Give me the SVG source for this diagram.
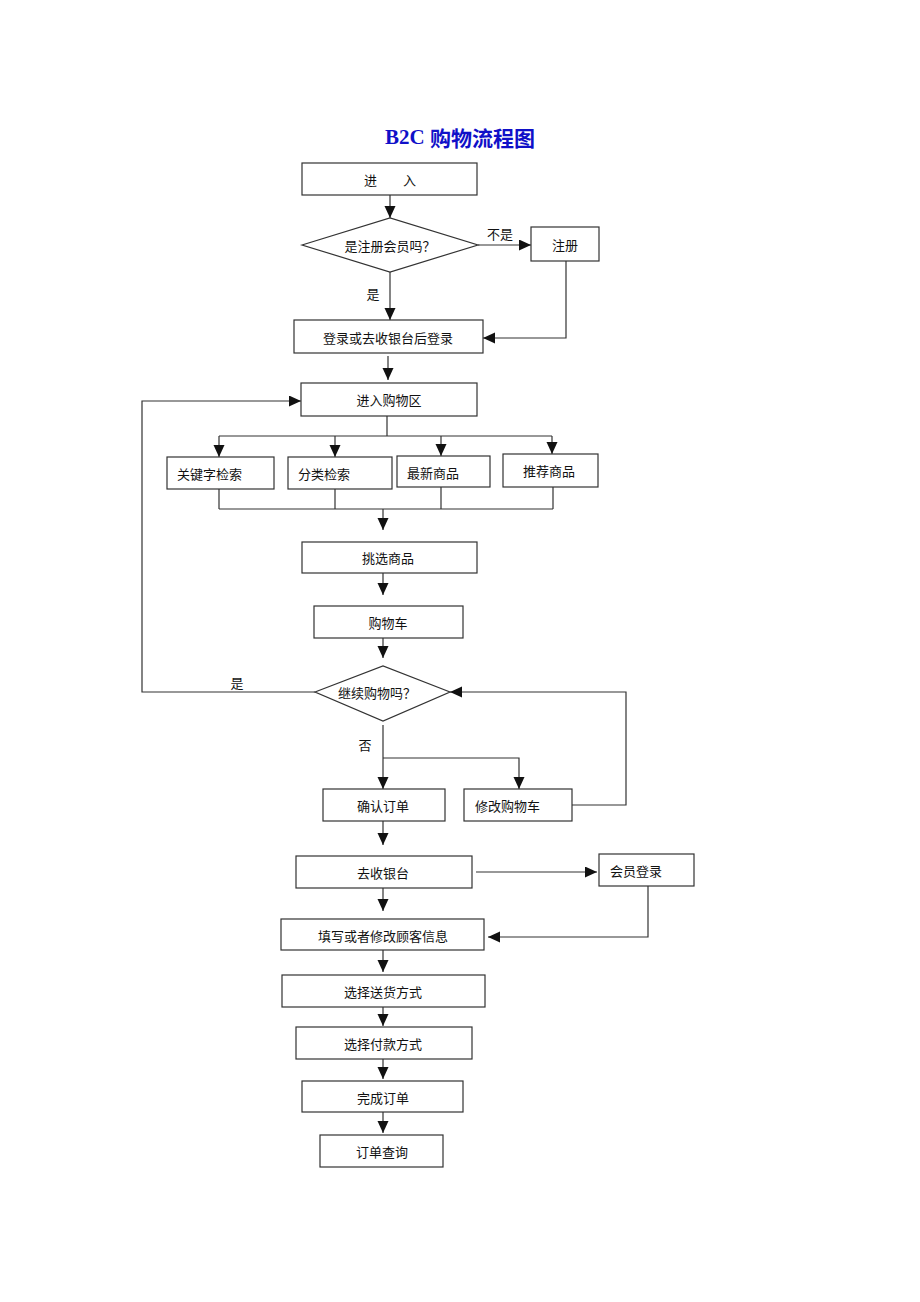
<svg xmlns="http://www.w3.org/2000/svg" width="920" height="1302" viewBox="0 0 920 1302">
<style>
.box{fill:#fff;stroke:#333;stroke-width:1.2}
.ln{fill:none;stroke:#333;stroke-width:1.2}
.ar{fill:none;stroke:#333;stroke-width:1.2;marker-end:url(#ah)}
text{font-family:"Noto Sans CJK SC","Liberation Sans",sans-serif;font-size:13px;fill:#111}
.c{text-anchor:middle;dominant-baseline:central}
.l{dominant-baseline:central}
</style>
<defs>
<marker id="ah" markerUnits="userSpaceOnUse" markerWidth="12" markerHeight="12" refX="12" refY="5.5" orient="auto">
<path d="M0,0 L12,5.5 L0,11 z" fill="#111"/>
</marker>
</defs>
<rect width="920" height="1302" fill="#fff"/>
<text x="460" y="137" class="c" style="font-size:21px;font-weight:bold;fill:#1010c8"><tspan style="font-family:'Liberation Serif',serif">B2C </tspan><tspan style="font-family:'Noto Sans CJK SC',sans-serif">购物流程图</tspan></text>

<g id="connectors">
<path class="ar" d="M390,195 V218"/>
<path class="ar" d="M478,245 H531"/>
<path class="ar" d="M566,261 V338 H483"/>
<path class="ar" d="M390,272 V320"/>
<path class="ar" d="M388,356 V380"/>
<path class="ar" d="M315,692 H142 V401 H301"/>
<path class="ln" d="M387,416 V436 M219,436 H552"/>
<path class="ar" d="M219,436 V457"/>
<path class="ar" d="M335,436 V457"/>
<path class="ar" d="M441,436 V456"/>
<path class="ar" d="M552,436 V454"/>
<path class="ln" d="M219,489 V509 M335,489 V509 M441,487 V509 M553,487 V509 M219,509 H553"/>
<path class="ar" d="M383,509 V530"/>
<path class="ar" d="M383,573 V595"/>
<path class="ar" d="M383,638 V658"/>
<path class="ar" d="M383,725 V789"/>
<path class="ar" d="M383,758 H519 V789"/>
<path class="ar" d="M572,805 H626 V692 H450"/>
<path class="ar" d="M383,821 V845"/>
<path class="ar" d="M476,872 H597"/>
<path class="ar" d="M648,886 V937 H488"/>
<path class="ar" d="M383,888 V911"/>
<path class="ar" d="M383,950 V972"/>
<path class="ar" d="M383,1007 V1026"/>
<path class="ar" d="M383,1059 V1079"/>
<path class="ar" d="M383,1112 V1133"/>
<text x="500" y="233" class="c">不是</text>
<text x="373" y="293" class="c">是</text>
<text x="237" y="682" class="c">是</text>
<text x="365" y="744" class="c">否</text>
</g>

<g id="n-enter"><rect class="box" x="302" y="163" width="175" height="32"/><text x="390" y="179" class="c">进　　入</text></g>
<g id="n-member"><path class="box" d="M302,245 L390,218 L478,245 L390,272 Z"/><text x="390" y="245" class="c">是注册会员吗？</text></g>
<g id="n-register"><rect class="box" x="531" y="227" width="68" height="34"/><text x="565" y="244" class="c">注册</text></g>
<g id="n-login"><rect class="box" x="294" y="320" width="189" height="33"/><text x="388" y="337" class="c">登录或去收银台后登录</text></g>
<g id="n-area"><rect class="box" x="301" y="383" width="176" height="33"/><text x="389" y="399" class="c">进入购物区</text></g>
<g id="n-keyword"><rect class="box" x="167" y="457" width="107" height="32"/><text x="177" y="473" class="l">关键字检索</text></g>
<g id="n-category"><rect class="box" x="288" y="457" width="104" height="32"/><text x="298" y="473" class="l">分类检索</text></g>
<g id="n-newest"><rect class="box" x="397" y="456" width="93" height="31"/><text x="407" y="472" class="l">最新商品</text></g>
<g id="n-recommend"><rect class="box" x="503" y="454" width="95" height="33"/><text x="523" y="470" class="l">推荐商品</text></g>
<g id="n-pick"><rect class="box" x="302" y="542" width="175" height="31"/><text x="388" y="557" class="c">挑选商品</text></g>
<g id="n-cart"><rect class="box" x="314" y="606" width="149" height="32"/><text x="388" y="622" class="c">购物车</text></g>
<g id="n-continue"><path class="box" d="M315,692 L383,666 L450,692 L383,721 Z"/><text x="377" y="692" class="c">继续购物吗？</text></g>
<g id="n-confirm"><rect class="box" x="323" y="789" width="122" height="32"/><text x="383" y="805" class="c">确认订单</text></g>
<g id="n-modify"><rect class="box" x="464" y="789" width="108" height="32"/><text x="475" y="805" class="l">修改购物车</text></g>
<g id="n-checkout"><rect class="box" x="296" y="856" width="176" height="32"/><text x="383" y="872" class="c">去收银台</text></g>
<g id="n-memberlogin"><rect class="box" x="599" y="854" width="95" height="32"/><text x="610" y="870" class="l">会员登录</text></g>
<g id="n-info"><rect class="box" x="281" y="919" width="203" height="31"/><text x="383" y="935" class="c">填写或者修改顾客信息</text></g>
<g id="n-delivery"><rect class="box" x="282" y="975" width="203" height="32"/><text x="383" y="991" class="c">选择送货方式</text></g>
<g id="n-payment"><rect class="box" x="296" y="1027" width="176" height="32"/><text x="383" y="1043" class="c">选择付款方式</text></g>
<g id="n-complete"><rect class="box" x="302" y="1081" width="161" height="31"/><text x="383" y="1097" class="c">完成订单</text></g>
<g id="n-query"><rect class="box" x="320" y="1135" width="123" height="32"/><text x="382" y="1151" class="c">订单查询</text></g>
</svg>
